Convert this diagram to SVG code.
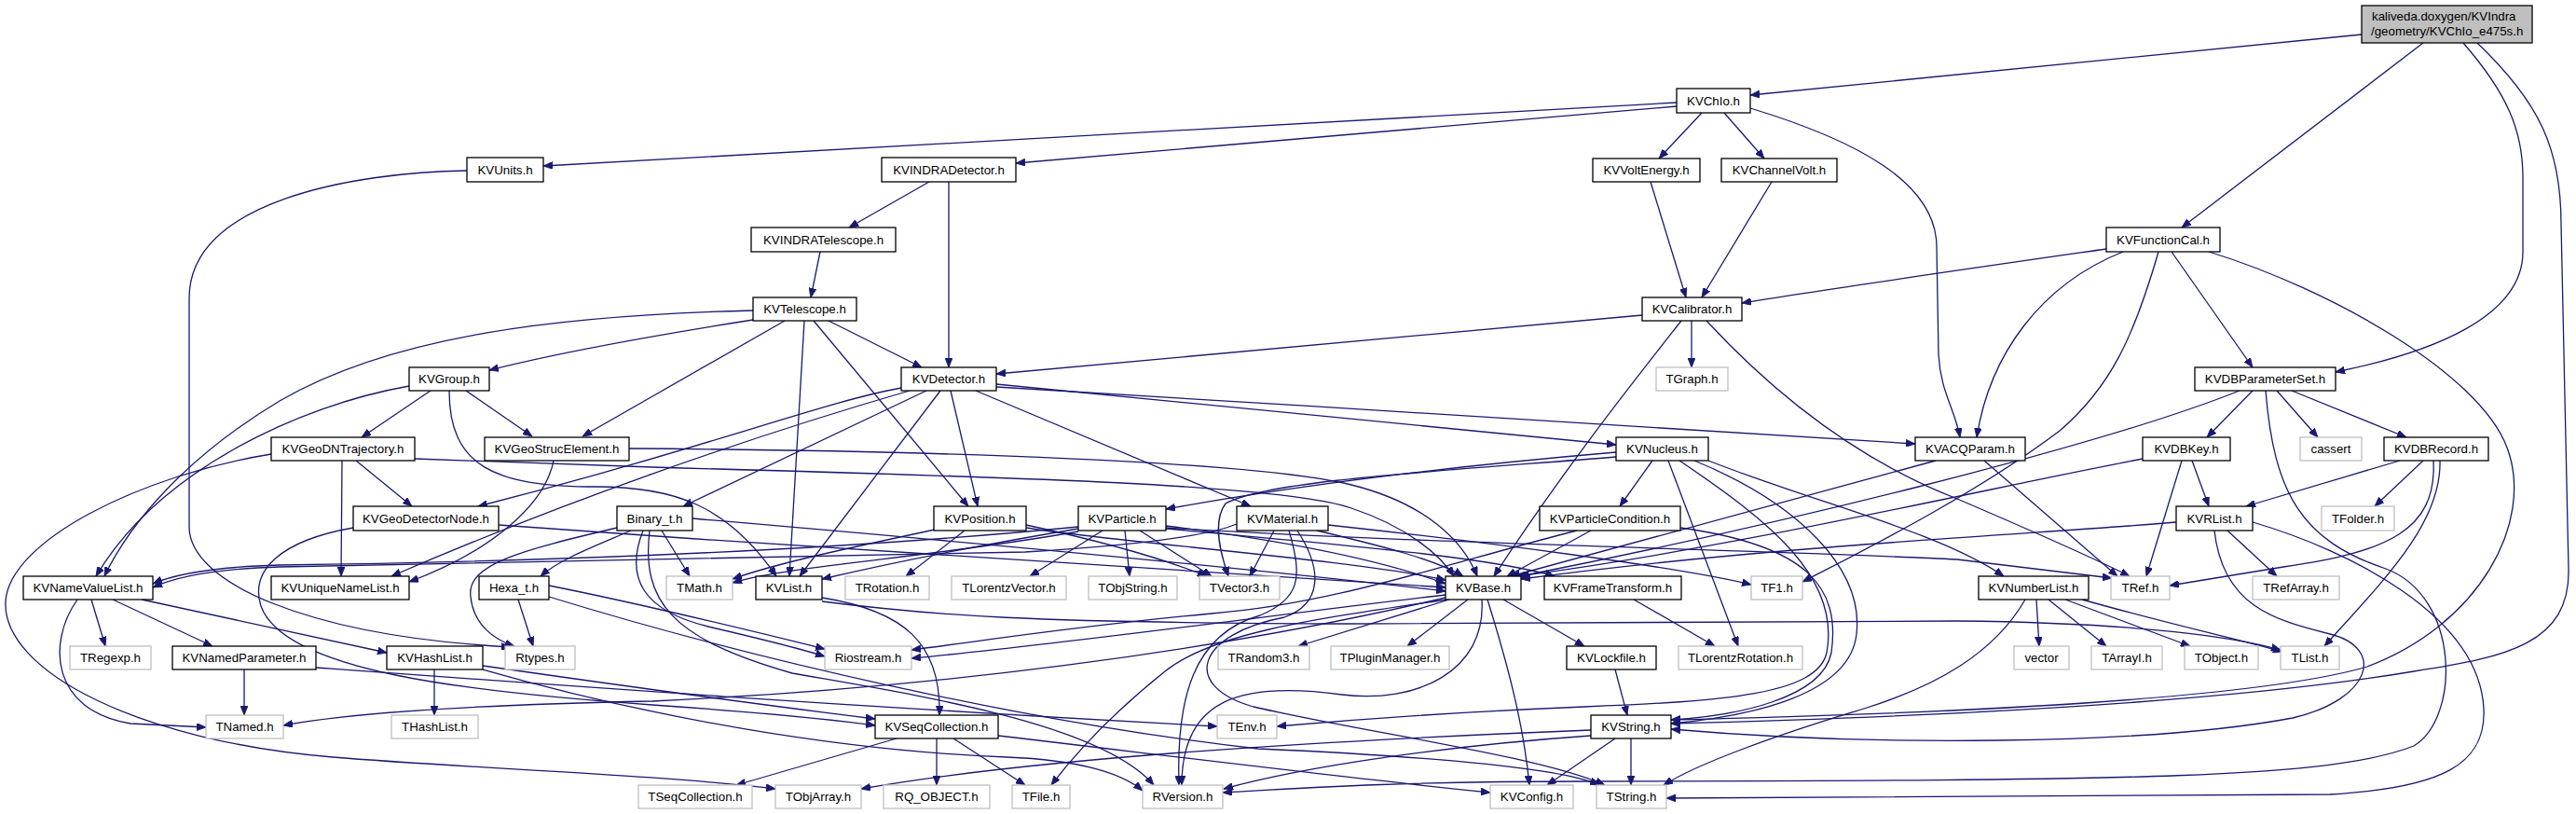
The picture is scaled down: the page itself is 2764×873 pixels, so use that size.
<svg xmlns="http://www.w3.org/2000/svg" width="2764" height="873" viewBox="0 0 2764 873">
<defs>
<style>
.n rect{fill:#fff;stroke:#000;stroke-width:1.3}
.x rect{fill:#fff;stroke:#bfbfbf;stroke-width:1.3}
.t rect{fill:#bfbfbf;stroke:#000;stroke-width:1.3}
text{font-family:"Liberation Sans",Arial,Helvetica,sans-serif;font-size:13.3px;fill:#000;text-anchor:middle}
.t text{text-anchor:start}
#edges path{fill:none;stroke:#191970;stroke-width:1.3;marker-end:url(#ah)}
</style>
<marker id="ah" viewBox="0 0 10 8" refX="10" refY="4" markerWidth="10" markerHeight="8" markerUnits="userSpaceOnUse" orient="auto"><path d="M0,0L10,4L0,8z" fill="#191970" stroke="#191970" stroke-width="0.8"/></marker>
</defs>
<rect width="2764" height="873" fill="#fff"/>
<g id="edges">
<path d="M2534,37 L1878,102"/>
<path d="M2600,46 L2341,244"/>
<path d="M2643,46 C2690,100 2707,140 2707,190 L2707,270 C2707,340 2610,378 2506,399"/>
<path d="M2658,46 C2725,110 2748,160 2748,240 L2756,610 C2758,690 2690,705 2590,720 C2400,752 2100,768 1793,776"/>
<path d="M1799,110 L583,178"/>
<path d="M1799,114 L1090,175"/>
<path d="M1826,121 L1780,170"/>
<path d="M1850,121 L1893,170"/>
<path d="M1878,116 C1990,150 2078,195 2078,265 L2080,380 C2082,420 2098,440 2103,469"/>
<path d="M501,183 C380,185 203,215 203,320 L203,565 C203,625 330,682 548,694"/>
<path d="M997,195 L911,244"/>
<path d="M1018,195 L1018,394"/>
<path d="M1771,195 L1809,319"/>
<path d="M1901,195 L1826,319"/>
<path d="M880,270 L870,319"/>
<path d="M2260,267 C2100,290 1960,310 1869,325"/>
<path d="M2278,270 C2190,305 2135,380 2121,469"/>
<path d="M2316,270 C2290,360 2265,415 2210,462 C2120,530 2000,590 1934,624"/>
<path d="M2330,270 L2417,394"/>
<path d="M2370,270 C2500,310 2660,400 2690,480 C2720,560 2660,670 2540,715 C2420,750 2100,765 1793,772"/>
<path d="M808,333 C600,338 420,360 300,430 C200,490 140,560 112,618"/>
<path d="M808,343 C700,360 600,378 525,397"/>
<path d="M842,344 L625,468"/>
<path d="M863,344 L847,618"/>
<path d="M873,344 L1039,543"/>
<path d="M889,344 L989,394"/>
<path d="M1762,338 L1069,401"/>
<path d="M1804,344 C1760,400 1680,500 1603,618"/>
<path d="M1815,344 L1815,394"/>
<path d="M1831,344 C1920,440 2010,500 2100,535 C2170,565 2240,595 2285,618"/>
<path d="M439,414 C320,435 170,505 103,618"/>
<path d="M462,419 L388,469"/>
<path d="M482,419 C482,500 530,522 640,522 C720,522 780,540 833,618"/>
<path d="M500,419 L571,468"/>
<path d="M967,416 C880,432 760,480 513,543"/>
<path d="M976,419 C800,470 600,540 420,618"/>
<path d="M994,419 L733,543"/>
<path d="M1009,419 L858,618"/>
<path d="M1020,419 L1049,543"/>
<path d="M1047,419 L1342,543"/>
<path d="M1069,412 L1734,477"/>
<path d="M1069,415 C1400,435 1800,460 2055,476"/>
<path d="M2403,419 C2250,480 1900,565 1631,618"/>
<path d="M2417,419 L2368,469"/>
<path d="M2443,419 L2487,469"/>
<path d="M2459,419 L2582,469"/>
<path d="M2431,419 C2440,530 2470,580 2560,610 C2640,640 2640,770 2590,800 C2500,835 2300,837 1700,838 C1500,838 1400,845 1312,850"/>
<path d="M2352,494 L2370,543"/>
<path d="M2341,494 L2303,618"/>
<path d="M2299,492 C2150,520 1850,590 1627,618"/>
<path d="M2575,494 L2410,543"/>
<path d="M2600,494 L2548,543"/>
<path d="M2611,494 C2615,570 2560,592 2450,608 L2328,628"/>
<path d="M2618,494 C2620,560 2560,620 2494,693"/>
<path d="M2390,569 L2443,618"/>
<path d="M2335,560 C2200,572 1900,585 1632,621"/>
<path d="M2417,560 C2520,590 2660,660 2665,760 C2668,820 2620,845 2500,852 L1788,856"/>
<path d="M2376,569 C2385,650 2440,665 2500,680 C2560,695 2545,750 2460,770 C2300,800 2000,800 1793,782"/>
<path d="M2077,494 L1621,618"/>
<path d="M2129,494 L2272,618"/>
<path d="M1734,485 C1500,505 1350,528 1251,546"/>
<path d="M1734,490 C1550,505 1360,515 1315,540 C1300,560 1310,595 1318,618"/>
<path d="M1773,494 L1738,543"/>
<path d="M1790,494 L1865,693"/>
<path d="M1818,494 C1930,540 2000,610 1992,680 C1985,745 1880,768 1793,776"/>
<path d="M1802,494 C1900,560 1975,620 1960,700 C1950,745 1850,752 1700,758 C1550,764 1450,772 1370,779"/>
<path d="M1833,494 C1950,540 2080,570 2150,618"/>
<path d="M1707,569 L1617,618"/>
<path d="M1692,569 C1550,605 1430,648 1300,658 C1150,672 1050,688 978,697"/>
<path d="M1803,566 C1940,585 1975,630 1965,700 C1955,750 1860,768 1793,772"/>
<path d="M1753,643 L1840,693"/>
<path d="M1733,718 L1746,767"/>
<path d="M1613,643 L1700,693"/>
<path d="M1575,643 L1510,693"/>
<path d="M1555,643 L1393,693"/>
<path d="M1596,643 C1620,720 1635,780 1641,842"/>
<path d="M1590,643 C1595,720 1520,755 1440,745 C1330,730 1268,750 1268,842"/>
<path d="M1553,643 C1400,665 1300,680 1250,720 C1200,760 1160,800 1128,842"/>
<path d="M1551,638 C1400,655 1150,690 978,706"/>
<path d="M1551,641 C1300,700 1000,738 700,752 C600,754 400,760 304,778"/>
<path d="M382,494 L442,543"/>
<path d="M367,494 L366,618"/>
<path d="M445,492 L700,501 C1100,512 1380,520 1450,545 C1510,565 1545,595 1560,618"/>
<path d="M675,481 C1000,483 1350,495 1450,520 C1530,540 1570,580 1585,618"/>
<path d="M535,563 C900,590 1300,612 1551,630"/>
<path d="M379,566 C300,580 268,612 280,650 C305,720 500,742 700,756 C800,763 880,770 939,778"/>
<path d="M291,487 C150,510 10,580 6,645 C2,720 150,795 357,812 C500,824 700,830 832,846"/>
<path d="M83,643 C50,690 55,762 140,776 L221,780"/>
<path d="M98,643 L113,693"/>
<path d="M121,643 L228,693"/>
<path d="M152,643 L415,700"/>
<path d="M262,718 L262,767"/>
<path d="M339,716 C600,735 900,757 1306,779"/>
<path d="M466,718 L466,767"/>
<path d="M518,714 C700,740 850,760 939,771"/>
<path d="M518,718 C700,770 900,805 1080,812 C1160,815 1205,830 1226,848"/>
<path d="M962,792 L790,842"/>
<path d="M1005,792 L1005,842"/>
<path d="M1023,792 L1100,842"/>
<path d="M1071,789 C1250,810 1450,835 1599,850"/>
<path d="M882,641 C970,655 1010,690 1008,767"/>
<path d="M882,645 C1000,660 1100,668 1450,669 L2100,666 C2300,668 2400,684 2447,697"/>
<path d="M1157,565 C900,590 600,602 300,606 C230,608 190,615 164,626"/>
<path d="M1327,562 C1290,577 1200,586 1100,592 L300,608 C230,610 190,618 164,630"/>
<path d="M1157,567 C1050,585 950,605 882,621"/>
<path d="M1003,568 C900,590 830,605 786,621"/>
<path d="M1157,570 C1000,598 850,606 786,625"/>
<path d="M1035,569 L972,618"/>
<path d="M1101,563 C1180,580 1250,600 1295,618"/>
<path d="M1101,566 C1200,582 1450,600 1551,622"/>
<path d="M1183,569 L1105,618"/>
<path d="M1207,569 L1212,618"/>
<path d="M1223,569 L1300,618"/>
<path d="M1251,564 C1380,580 1480,600 1551,626"/>
<path d="M1251,567 C1450,585 1600,598 1668,618"/>
<path d="M1251,566 C1500,582 1900,590 2100,600 L2266,620"/>
<path d="M1367,569 L1341,618"/>
<path d="M1413,569 C1480,585 1540,600 1570,618"/>
<path d="M1425,563 C1600,582 1800,608 1879,627"/>
<path d="M1383,569 C1398,620 1395,642 1352,660 C1280,680 1262,750 1265,842"/>
<path d="M1392,569 C1420,612 1418,648 1378,662 C1285,680 1265,735 1345,758 C1460,785 1650,810 1722,842"/>
<path d="M677,569 C640,585 600,600 580,618"/>
<path d="M710,569 L740,618"/>
<path d="M662,566 C560,590 500,605 505,640 C508,670 530,686 552,693"/>
<path d="M690,569 C670,620 690,655 760,672 C820,686 860,696 885,704"/>
<path d="M697,569 C688,645 720,685 850,722 C980,745 1180,775 1238,842"/>
<path d="M743,556 C1000,578 1300,605 1551,634"/>
<path d="M589,640 C800,705 1100,775 1350,803 C1550,812 1680,825 1716,842"/>
<path d="M556,643 L572,693"/>
<path d="M589,628 C700,650 820,680 885,696"/>
<path d="M1733,792 L1660,842"/>
<path d="M1750,792 L1750,842"/>
<path d="M1707,783 C1400,795 1100,815 924,846"/>
<path d="M1707,789 C1550,800 1400,822 1313,846"/>
<path d="M2185,643 L2188,693"/>
<path d="M2198,643 L2260,693"/>
<path d="M2216,643 L2350,693"/>
<path d="M2234,643 C2330,670 2400,685 2449,699"/>
<path d="M2173,643 C2140,700 2080,735 2000,760 C1900,790 1820,820 1785,842"/>
<path d="M594,494 C585,540 530,590 439,624"/>
</g>
<g id="n-top" class="t"><rect x="2534" y="6" width="183" height="40"/><text x="2545" y="22">kaliveda.doxygen/KVIndra</text><text x="2544" y="38">/geometry/KVChIo_e475s.h</text></g>
<g id="n-KVChIo" class="n"><rect x="1799" y="95" width="79" height="26"/><text x="1838.5" y="112.5">KVChIo.h</text></g>
<g id="n-KVUnits" class="n"><rect x="501" y="169" width="82" height="26"/><text x="542" y="186.5">KVUnits.h</text></g>
<g id="n-KVINDRADetector" class="n"><rect x="946" y="169" width="144" height="26"/><text x="1018" y="186.5">KVINDRADetector.h</text></g>
<g id="n-KVVoltEnergy" class="n"><rect x="1709" y="170" width="115" height="25"/><text x="1766.5" y="187">KVVoltEnergy.h</text></g>
<g id="n-KVChannelVolt" class="n"><rect x="1847" y="170" width="124" height="25"/><text x="1909" y="187">KVChannelVolt.h</text></g>
<g id="n-KVINDRATelescope" class="n"><rect x="806" y="244" width="155" height="26"/><text x="883.5" y="261.5">KVINDRATelescope.h</text></g>
<g id="n-KVFunctionCal" class="n"><rect x="2260" y="244" width="122" height="26"/><text x="2321" y="261.5">KVFunctionCal.h</text></g>
<g id="n-KVTelescope" class="n"><rect x="808" y="319" width="111" height="25"/><text x="863.5" y="336">KVTelescope.h</text></g>
<g id="n-KVCalibrator" class="n"><rect x="1762" y="319" width="107" height="25"/><text x="1815.5" y="336">KVCalibrator.h</text></g>
<g id="n-KVGroup" class="n"><rect x="439" y="394" width="86" height="25"/><text x="482" y="411">KVGroup.h</text></g>
<g id="n-KVDetector" class="n"><rect x="967" y="394" width="102" height="25"/><text x="1018" y="411">KVDetector.h</text></g>
<g id="n-TGraph" class="x"><rect x="1777" y="394" width="77" height="25"/><text x="1815.5" y="411">TGraph.h</text></g>
<g id="n-KVDBParameterSet" class="n"><rect x="2355" y="394" width="151" height="25"/><text x="2430.5" y="411">KVDBParameterSet.h</text></g>
<g id="n-KVGeoDNTrajectory" class="n"><rect x="291" y="469" width="154" height="25"/><text x="368" y="486">KVGeoDNTrajectory.h</text></g>
<g id="n-KVGeoStrucElement" class="n"><rect x="520" y="469" width="155" height="25"/><text x="597.5" y="486">KVGeoStrucElement.h</text></g>
<g id="n-KVNucleus" class="n"><rect x="1734" y="469" width="99" height="25"/><text x="1783.5" y="486">KVNucleus.h</text></g>
<g id="n-KVACQParam" class="n"><rect x="2055" y="469" width="118" height="25"/><text x="2114" y="486">KVACQParam.h</text></g>
<g id="n-KVDBKey" class="n"><rect x="2299" y="469" width="94" height="25"/><text x="2346" y="486">KVDBKey.h</text></g>
<g id="n-cassert" class="x"><rect x="2468" y="469" width="66" height="25"/><text x="2501" y="486">cassert</text></g>
<g id="n-KVDBRecord" class="n"><rect x="2558" y="469" width="112" height="25"/><text x="2614" y="486">KVDBRecord.h</text></g>
<g id="n-KVGeoDetectorNode" class="n"><rect x="379" y="543" width="156" height="26"/><text x="457" y="560.5">KVGeoDetectorNode.h</text></g>
<g id="n-Binary_t" class="n"><rect x="662" y="543" width="81" height="26"/><text x="702.5" y="560.5">Binary_t.h</text></g>
<g id="n-KVPosition" class="n"><rect x="1002" y="543" width="99" height="26"/><text x="1051.5" y="560.5">KVPosition.h</text></g>
<g id="n-KVParticle" class="n"><rect x="1157" y="543" width="94" height="26"/><text x="1204" y="560.5">KVParticle.h</text></g>
<g id="n-KVMaterial" class="n"><rect x="1327" y="543" width="98" height="26"/><text x="1376" y="560.5">KVMaterial.h</text></g>
<g id="n-KVParticleCondition" class="n"><rect x="1652" y="543" width="151" height="26"/><text x="1727.5" y="560.5">KVParticleCondition.h</text></g>
<g id="n-KVRList" class="n"><rect x="2335" y="543" width="82" height="26"/><text x="2376" y="560.5">KVRList.h</text></g>
<g id="n-TFolder" class="x"><rect x="2491" y="543" width="78" height="26"/><text x="2530" y="560.5">TFolder.h</text></g>
<g id="n-KVNameValueList" class="n"><rect x="25" y="618" width="139" height="25"/><text x="94.5" y="635">KVNameValueList.h</text></g>
<g id="n-KVUniqueNameList" class="n"><rect x="291" y="618" width="148" height="25"/><text x="365" y="635">KVUniqueNameList.h</text></g>
<g id="n-Hexa_t" class="n"><rect x="514" y="618" width="75" height="25"/><text x="551.5" y="635">Hexa_t.h</text></g>
<g id="n-TMath" class="x"><rect x="715" y="618" width="71" height="25"/><text x="750.5" y="635">TMath.h</text></g>
<g id="n-KVList" class="n"><rect x="811" y="618" width="71" height="25"/><text x="846.5" y="635">KVList.h</text></g>
<g id="n-TRotation" class="x"><rect x="907" y="618" width="90" height="25"/><text x="952" y="635">TRotation.h</text></g>
<g id="n-TLorentzVector" class="x"><rect x="1021" y="618" width="123" height="25"/><text x="1082.5" y="635">TLorentzVector.h</text></g>
<g id="n-TObjString" class="x"><rect x="1168" y="618" width="95" height="25"/><text x="1215.5" y="635">TObjString.h</text></g>
<g id="n-TVector3" class="x"><rect x="1287" y="618" width="86" height="25"/><text x="1330" y="635">TVector3.h</text></g>
<g id="n-KVBase" class="n"><rect x="1551" y="618" width="81" height="25"/><text x="1591.5" y="635">KVBase.h</text></g>
<g id="n-KVFrameTransform" class="n"><rect x="1657" y="618" width="147" height="25"/><text x="1730.5" y="635">KVFrameTransform.h</text></g>
<g id="n-TF1" class="x"><rect x="1879" y="618" width="55" height="25"/><text x="1906.5" y="635">TF1.h</text></g>
<g id="n-KVNumberList" class="n"><rect x="2123" y="618" width="118" height="25"/><text x="2182" y="635">KVNumberList.h</text></g>
<g id="n-TRef" class="x"><rect x="2265" y="618" width="63" height="25"/><text x="2296.5" y="635">TRef.h</text></g>
<g id="n-TRefArray" class="x"><rect x="2417" y="618" width="93" height="25"/><text x="2463.5" y="635">TRefArray.h</text></g>
<g id="n-TRegexp" class="x"><rect x="75" y="693" width="87" height="25"/><text x="118.5" y="710">TRegexp.h</text></g>
<g id="n-KVNamedParameter" class="n"><rect x="185" y="693" width="154" height="25"/><text x="262" y="710">KVNamedParameter.h</text></g>
<g id="n-KVHashList" class="n"><rect x="415" y="693" width="103" height="25"/><text x="466.5" y="710">KVHashList.h</text></g>
<g id="n-Rtypes" class="x"><rect x="542" y="693" width="75" height="25"/><text x="579.5" y="710">Rtypes.h</text></g>
<g id="n-Riostream" class="x"><rect x="885" y="693" width="93" height="25"/><text x="931.5" y="710">Riostream.h</text></g>
<g id="n-TRandom3" class="x"><rect x="1307" y="693" width="98" height="25"/><text x="1356" y="710">TRandom3.h</text></g>
<g id="n-TPluginManager" class="x"><rect x="1428" y="693" width="127" height="25"/><text x="1491.5" y="710">TPluginManager.h</text></g>
<g id="n-KVLockfile" class="n"><rect x="1681" y="693" width="96" height="25"/><text x="1729" y="710">KVLockfile.h</text></g>
<g id="n-TLorentzRotation" class="x"><rect x="1801" y="693" width="133" height="25"/><text x="1867.5" y="710">TLorentzRotation.h</text></g>
<g id="n-vector" class="x"><rect x="2161" y="693" width="59" height="25"/><text x="2190.5" y="710">vector</text></g>
<g id="n-TArrayI" class="x"><rect x="2244" y="693" width="76" height="25"/><text x="2282" y="710">TArrayI.h</text></g>
<g id="n-TObject" class="x"><rect x="2344" y="693" width="79" height="25"/><text x="2383.5" y="710">TObject.h</text></g>
<g id="n-TList" class="x"><rect x="2447" y="693" width="63" height="25"/><text x="2478.5" y="710">TList.h</text></g>
<g id="n-TNamed" class="x"><rect x="221" y="767" width="83" height="25"/><text x="262.5" y="784">TNamed.h</text></g>
<g id="n-THashList" class="x"><rect x="420" y="767" width="93" height="25"/><text x="466.5" y="784">THashList.h</text></g>
<g id="n-KVSeqCollection" class="n"><rect x="939" y="767" width="132" height="25"/><text x="1005" y="784">KVSeqCollection.h</text></g>
<g id="n-TEnv" class="x"><rect x="1306" y="767" width="64" height="25"/><text x="1338" y="784">TEnv.h</text></g>
<g id="n-KVString" class="n"><rect x="1707" y="767" width="86" height="25"/><text x="1750" y="784">KVString.h</text></g>
<g id="n-TSeqCollection" class="x"><rect x="685" y="842" width="122" height="25"/><text x="746" y="859">TSeqCollection.h</text></g>
<g id="n-TObjArray" class="x"><rect x="832" y="842" width="92" height="25"/><text x="878" y="859">TObjArray.h</text></g>
<g id="n-RQ_OBJECT" class="x"><rect x="948" y="842" width="114" height="25"/><text x="1005" y="859">RQ_OBJECT.h</text></g>
<g id="n-TFile" class="x"><rect x="1086" y="842" width="62" height="25"/><text x="1117" y="859">TFile.h</text></g>
<g id="n-RVersion" class="x"><rect x="1226" y="842" width="86" height="25"/><text x="1269" y="859">RVersion.h</text></g>
<g id="n-KVConfig" class="x"><rect x="1599" y="842" width="89" height="25"/><text x="1643.5" y="859">KVConfig.h</text></g>
<g id="n-TString" class="x"><rect x="1713" y="842" width="75" height="25"/><text x="1750.5" y="859">TString.h</text></g>
</svg>
